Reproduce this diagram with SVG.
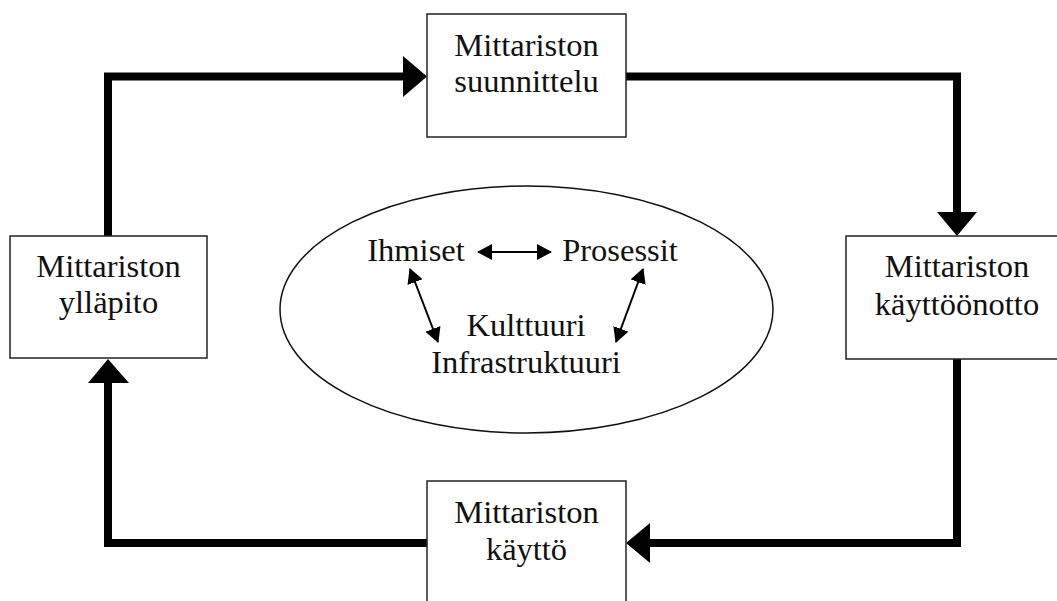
<svg xmlns="http://www.w3.org/2000/svg" width="1057" height="601" viewBox="0 0 1057 601">
<style>
.box{fill:#fff;stroke:#222;stroke-width:1.5}
.t{font-family:"Liberation Serif","Times New Roman",serif;font-size:32.5px;fill:#111;text-anchor:middle}
.thick{fill:none;stroke:#000;stroke-width:8;stroke-linejoin:miter}
.thin{fill:none;stroke:#000;stroke-width:2}
</style>
<defs>
<marker id="sa" viewBox="0 0 15 16" refX="14" refY="8" markerWidth="15" markerHeight="16" markerUnits="userSpaceOnUse" orient="auto-start-reverse">
<path d="M0,0 L15,8 L0,16 z" fill="#000"/>
</marker>
</defs>
<g id="connectors">
<path class="thick" d="M108,236 V76.5 H405"/>
<polygon points="403,56 427,76.5 403,97" fill="#000"/>
<path class="thick" d="M626,76.5 H957 V213"/>
<polygon points="937,212 957,236 977,212" fill="#000"/>
<path class="thick" d="M957,359 V543 H648"/>
<polygon points="650,523 626,543 650,563" fill="#000"/>
<path class="thick" d="M427,543 H108 V381"/>
<polygon points="88,383 108,359 129,383" fill="#000"/>
</g>
<g id="center">
<ellipse cx="526.5" cy="309.5" rx="246.5" ry="123.5" fill="#fff" stroke="#111" stroke-width="1.5"/>
<g id="arrows-inner">
<line class="thin" x1="478" y1="252" x2="551" y2="252" marker-start="url(#sa)" marker-end="url(#sa)"/>
<line class="thin" x1="410" y1="269" x2="438" y2="342" marker-start="url(#sa)" marker-end="url(#sa)"/>
<line class="thin" x1="643" y1="269" x2="616" y2="342" marker-start="url(#sa)" marker-end="url(#sa)"/>
</g>
<text class="t" x="416" y="261">Ihmiset</text>
<text class="t" x="620" y="261">Prosessit</text>
<text class="t" x="526" y="336">Kulttuuri</text>
<text class="t" x="526" y="373">Infrastruktuuri</text>
</g>
<g id="suunnittelu">
<rect class="box" x="427" y="14" width="199" height="123"/>
<text class="t" x="526.5" y="56">Mittariston</text>
<text class="t" x="526.5" y="92">suunnittelu</text>
</g>
<g id="kayttoonotto">
<rect class="box" x="846" y="236" width="222" height="123"/>
<text class="t" x="957" y="277">Mittariston</text>
<text class="t" x="957" y="315">käyttöönotto</text>
</g>
<g id="kaytto">
<rect class="box" x="427" y="481" width="199" height="130"/>
<text class="t" x="526.5" y="523">Mittariston</text>
<text class="t" x="526.5" y="560">käyttö</text>
</g>
<g id="yllapito">
<rect class="box" x="10" y="236" width="197" height="122"/>
<text class="t" x="108.5" y="277">Mittariston</text>
<text class="t" x="108.5" y="313">ylläpito</text>
</g>
</svg>
